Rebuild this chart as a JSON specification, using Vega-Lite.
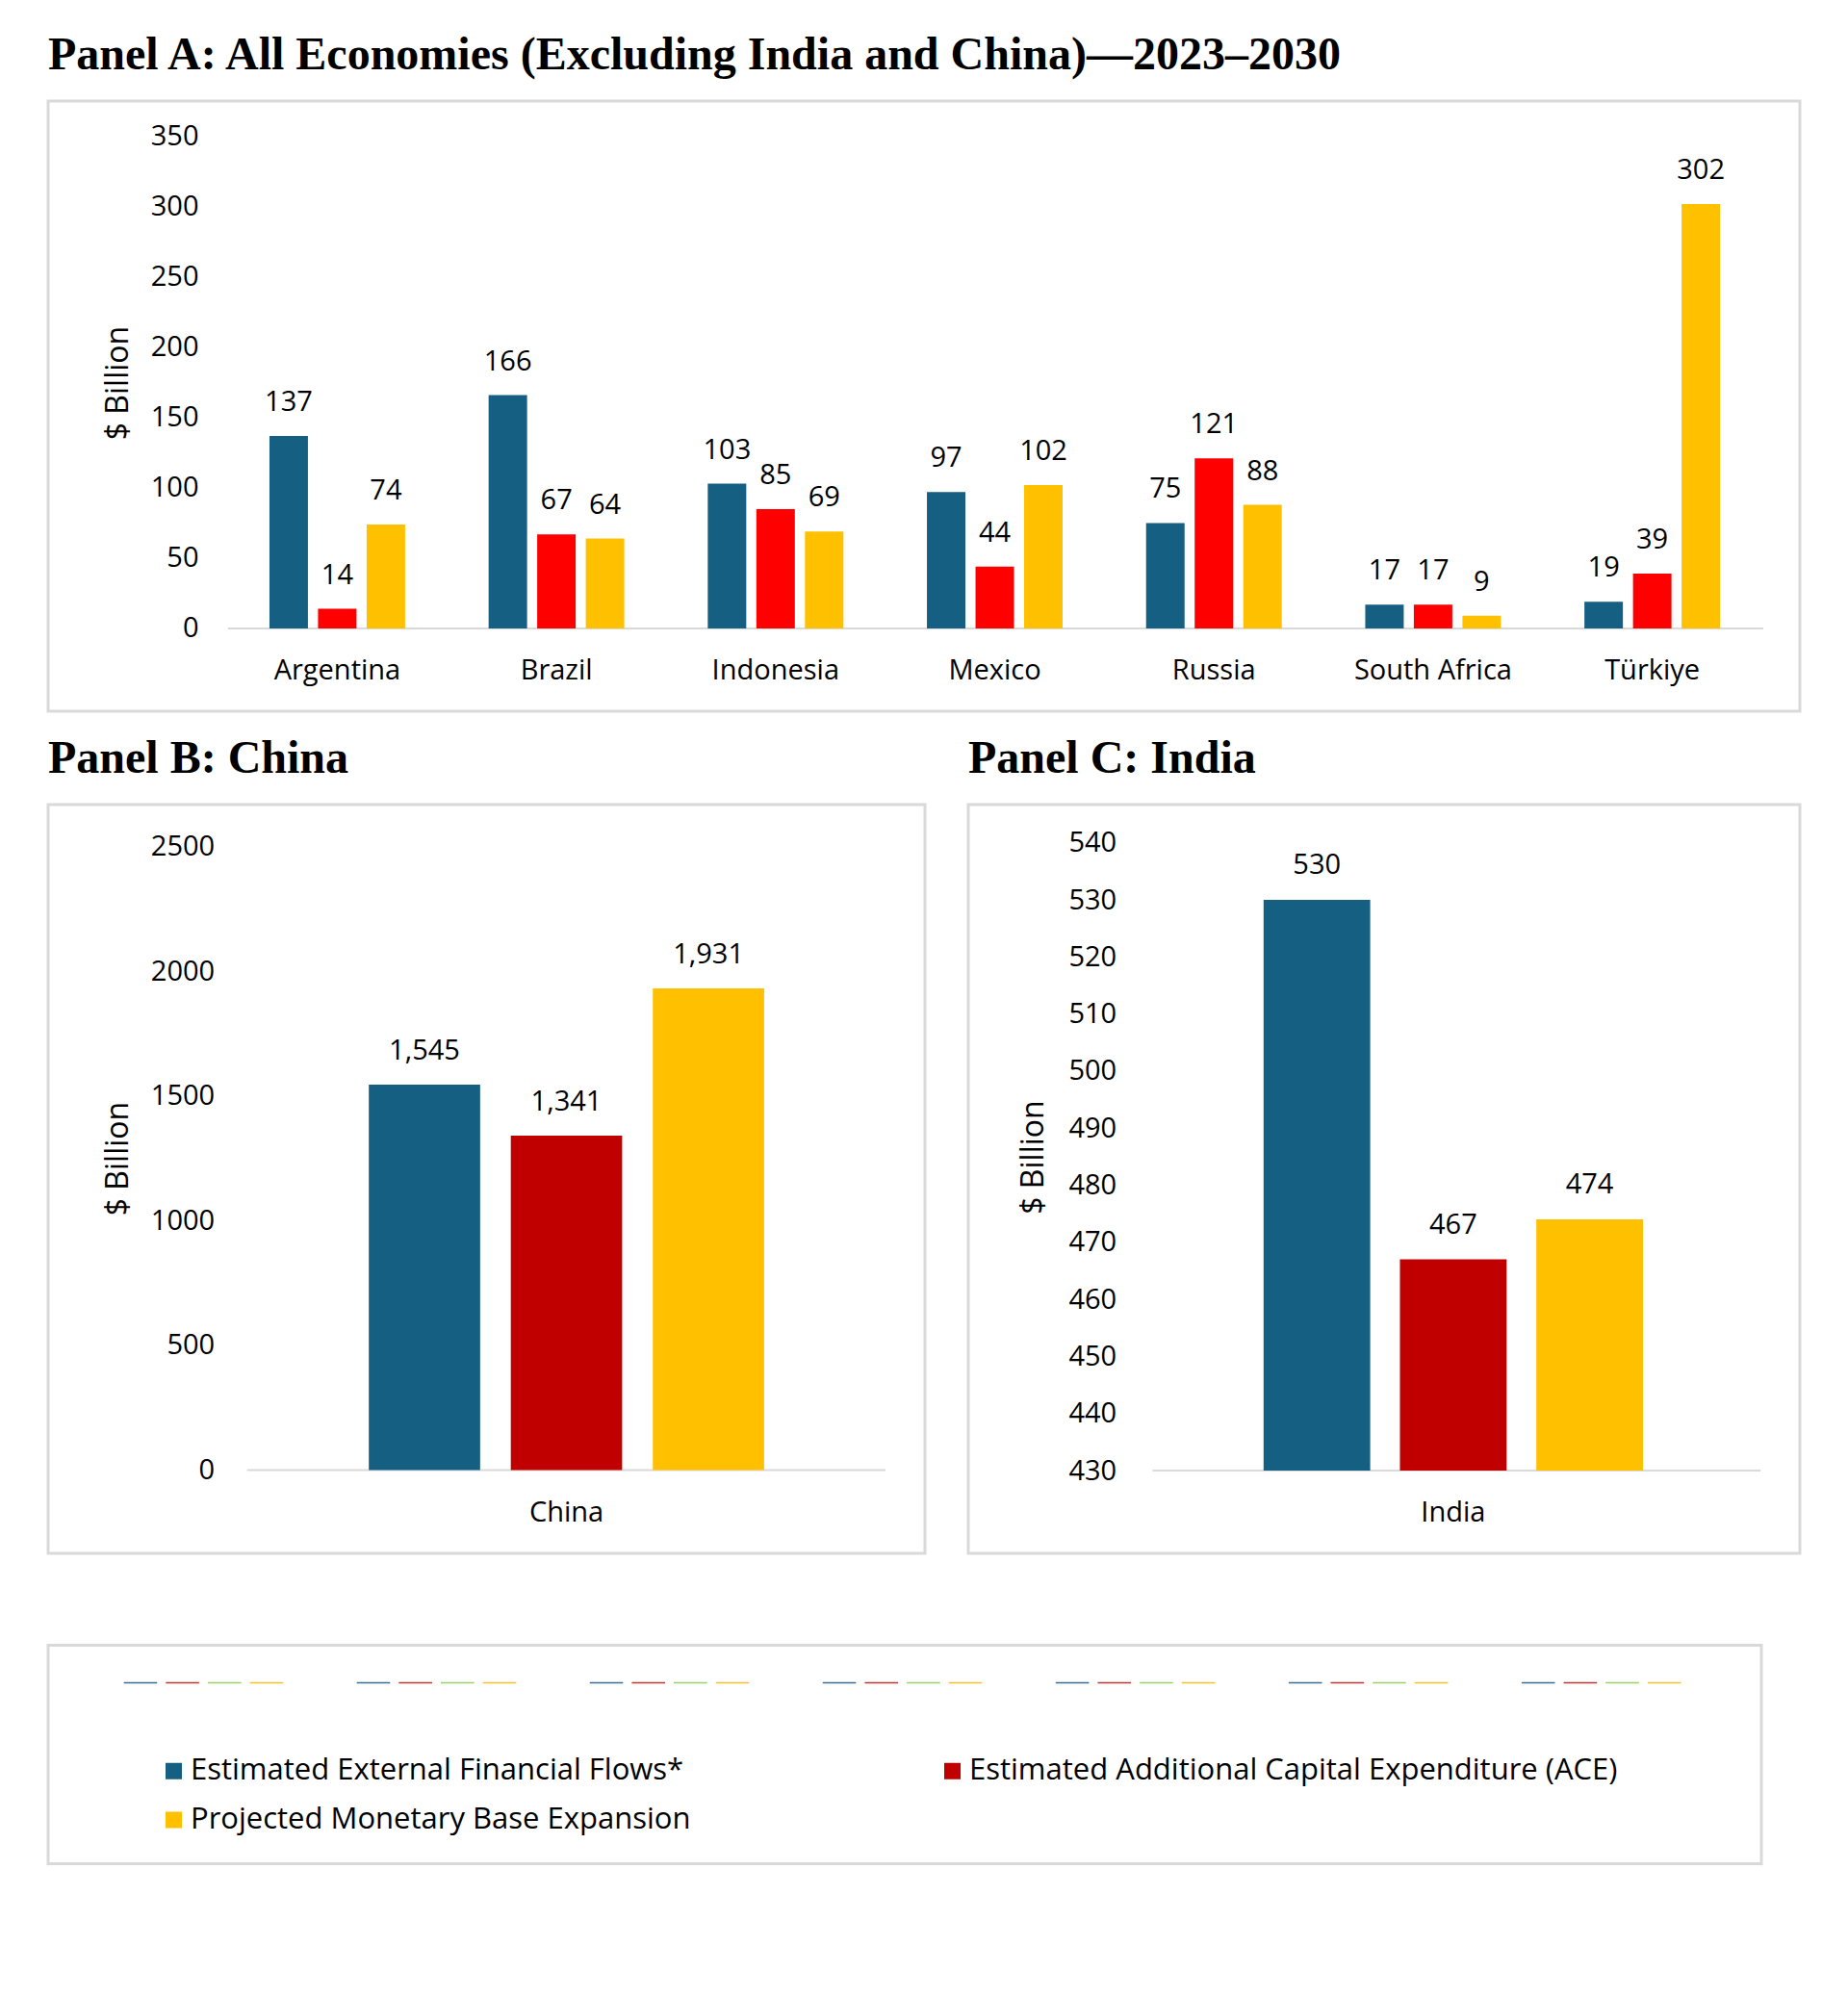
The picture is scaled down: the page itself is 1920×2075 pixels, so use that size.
{
  "$schema": "https://vega.github.io/schema/vega-lite/v6.json",
  "background": "white",
  "padding": {"left": 48, "top": 32, "right": 52, "bottom": 100},
  "config": {
    "font": "Open Sans",
    "view": {"stroke": "#d9d9d9", "strokeWidth": 3, "fill": "white"},
    "title": {"anchor": "start", "frame": "group", "font": "Liberation Serif", "fontSize": 48, "fontWeight": "bold", "color": "#000000", "baseline": "alphabetic", "offset": 23},
    "axis": {"labelFont": "Open Sans", "titleFont": "Open Sans", "labelColor": "#000000", "titleColor": "#000000", "labelFontSize": 29, "titleFontSize": 32, "titleFontWeight": "normal", "domain": false, "ticks": false, "tickSize": 0, "grid": false, "labelPadding": 0}
  },
  "datasets": {
    "a": [
      {"country": "Argentina", "series": "Estimated External Financial Flows*", "value": 137},
      {"country": "Argentina", "series": "Estimated Additional Capital Expenditure (ACE)", "value": 14},
      {"country": "Argentina", "series": "Projected Monetary Base Expansion", "value": 74},
      {"country": "Brazil", "series": "Estimated External Financial Flows*", "value": 166},
      {"country": "Brazil", "series": "Estimated Additional Capital Expenditure (ACE)", "value": 67},
      {"country": "Brazil", "series": "Projected Monetary Base Expansion", "value": 64},
      {"country": "Indonesia", "series": "Estimated External Financial Flows*", "value": 103},
      {"country": "Indonesia", "series": "Estimated Additional Capital Expenditure (ACE)", "value": 85},
      {"country": "Indonesia", "series": "Projected Monetary Base Expansion", "value": 69},
      {"country": "Mexico", "series": "Estimated External Financial Flows*", "value": 97},
      {"country": "Mexico", "series": "Estimated Additional Capital Expenditure (ACE)", "value": 44},
      {"country": "Mexico", "series": "Projected Monetary Base Expansion", "value": 102},
      {"country": "Russia", "series": "Estimated External Financial Flows*", "value": 75},
      {"country": "Russia", "series": "Estimated Additional Capital Expenditure (ACE)", "value": 121},
      {"country": "Russia", "series": "Projected Monetary Base Expansion", "value": 88},
      {"country": "South Africa", "series": "Estimated External Financial Flows*", "value": 17},
      {"country": "South Africa", "series": "Estimated Additional Capital Expenditure (ACE)", "value": 17},
      {"country": "South Africa", "series": "Projected Monetary Base Expansion", "value": 9},
      {"country": "Türkiye", "series": "Estimated External Financial Flows*", "value": 19},
      {"country": "Türkiye", "series": "Estimated Additional Capital Expenditure (ACE)", "value": 39},
      {"country": "Türkiye", "series": "Projected Monetary Base Expansion", "value": 302}
    ],
    "b": [
      {"country": "China", "series": "Estimated External Financial Flows*", "value": 1545},
      {"country": "China", "series": "Estimated Additional Capital Expenditure (ACE)", "value": 1341},
      {"country": "China", "series": "Projected Monetary Base Expansion", "value": 1931}
    ],
    "c": [
      {"country": "India", "series": "Estimated External Financial Flows*", "value": 530},
      {"country": "India", "series": "Estimated Additional Capital Expenditure (ACE)", "value": 467},
      {"country": "India", "series": "Projected Monetary Base Expansion", "value": 474}
    ],
    "abase": [{"start": "Argentina", "end": "Türkiye"}],
    "bbase": [{"start": "China", "end": "China"}],
    "cbase": [{"start": "India", "end": "India"}],
    "dashes": [
      {"group": 1, "line": "1"}, {"group": 1, "line": "2"}, {"group": 1, "line": "3"}, {"group": 1, "line": "4"},
      {"group": 2, "line": "1"}, {"group": 2, "line": "2"}, {"group": 2, "line": "3"}, {"group": 2, "line": "4"},
      {"group": 3, "line": "1"}, {"group": 3, "line": "2"}, {"group": 3, "line": "3"}, {"group": 3, "line": "4"},
      {"group": 4, "line": "1"}, {"group": 4, "line": "2"}, {"group": 4, "line": "3"}, {"group": 4, "line": "4"},
      {"group": 5, "line": "1"}, {"group": 5, "line": "2"}, {"group": 5, "line": "3"}, {"group": 5, "line": "4"},
      {"group": 6, "line": "1"}, {"group": 6, "line": "2"}, {"group": 6, "line": "3"}, {"group": 6, "line": "4"},
      {"group": 7, "line": "1"}, {"group": 7, "line": "2"}, {"group": 7, "line": "3"}, {"group": 7, "line": "4"}
    ]
  },
  "spacing": 91.5,
  "resolve": {"scale": {"color": "independent", "x": "independent", "y": "independent", "xOffset": "independent"}, "legend": {"color": "independent"}},
  "vconcat": [
    {
      "spacing": 22,
      "resolve": {"scale": {"color": "independent", "x": "independent", "y": "independent", "xOffset": "independent"}, "legend": {"color": "independent"}},
      "vconcat": [
        {
          "width": 1820,
          "height": 634,
          "title": "Panel A: All Economies (Excluding India and China)—2023–2030",
          "layer": [
            {
              "data": {"name": "abase"},
              "mark": {"type": "rule", "color": "#d9d9d9", "strokeWidth": 2},
              "encoding": {
                "x": {"field": "start", "type": "nominal", "bandPosition": -0.305},
                "x2": {"field": "end", "bandPosition": 1.318},
                "y": {"datum": 0, "type": "quantitative"}
              }
            },
            {
              "data": {"name": "a"},
              "mark": {"type": "bar"},
              "encoding": {
                "x": {"field": "country", "type": "nominal", "sort": null, "title": null,
                      "scale": {"paddingInner": 0.381, "paddingOuter": 0.687, "align": 0.735},
                      "axis": {"orient": "bottom", "offset": -34, "labelBaseline": "alphabetic", "labelAngle": 0, "labelAlign": "center", "bandPosition": 0.5}},
                "xOffset": {"field": "series", "type": "nominal",
                      "scale": {"domain": ["Estimated External Financial Flows*", "Estimated Additional Capital Expenditure (ACE)", "Projected Monetary Base Expansion"], "paddingInner": 0.208, "paddingOuter": 0}},
                "y": {"field": "value", "type": "quantitative",
                      "scale": {"domain": [-58.9, 375.3], "nice": false, "zero": false},
                      "axis": {"values": [0, 50, 100, 150, 200, 250, 300, 350], "offset": -156, "title": "$ Billion", "titleAngle": -90, "titleBaseline": "middle", "titleX": -84, "titleY": 292.5}},
                "y2": {"datum": 0},
                "color": {"field": "series", "type": "nominal", "legend": null,
                      "scale": {"domain": ["Estimated External Financial Flows*", "Estimated Additional Capital Expenditure (ACE)", "Projected Monetary Base Expansion"], "range": ["#156082", "#ff0000", "#ffc000"]}}
              }
            },
            {
              "data": {"name": "a"},
              "mark": {"type": "text", "font": "Open Sans", "fontSize": 29, "color": "#000000", "baseline": "alphabetic", "dy": -26},
              "encoding": {
                "x": {"field": "country", "type": "nominal", "sort": null},
                "xOffset": {"field": "series", "type": "nominal"},
                "y": {"field": "value", "type": "quantitative"},
                "text": {"field": "value", "type": "quantitative", "format": ","}
              }
            }
          ]
        },
        {
          "spacing": 41,
          "resolve": {"scale": {"color": "independent", "x": "independent", "y": "independent", "xOffset": "independent"}, "legend": {"color": "independent"}},
          "hconcat": [
            {
              "width": 911,
              "height": 778,
              "title": "Panel B: China",
              "layer": [
                {
                  "data": {"name": "bbase"},
                  "mark": {"type": "rule", "color": "#d9d9d9", "strokeWidth": 2},
                  "encoding": {
                    "x": {"field": "start", "type": "nominal", "bandPosition": -0.308},
                    "x2": {"field": "end", "bandPosition": 1.307},
                    "y": {"datum": 0, "type": "quantitative"}
                  }
                },
                {
                  "data": {"name": "b"},
                  "mark": {"type": "bar"},
                  "encoding": {
                    "x": {"field": "country", "type": "nominal", "sort": null, "title": null,
                          "scale": {"paddingInner": 0, "paddingOuter": 0.609, "align": 0.666},
                          "axis": {"orient": "bottom", "offset": -34, "labelBaseline": "alphabetic", "labelAngle": 0, "labelAlign": "center", "bandPosition": 0.5}},
                    "xOffset": {"field": "series", "type": "nominal",
                          "scale": {"domain": ["Estimated External Financial Flows*", "Estimated Additional Capital Expenditure (ACE)", "Projected Monetary Base Expansion"], "paddingInner": 0.216, "paddingOuter": 0}},
                    "y": {"field": "value", "type": "quantitative",
                          "scale": {"domain": [-333.7, 2667.8], "nice": false, "zero": false},
                          "axis": {"values": [0, 500, 1000, 1500, 2000, 2500], "format": "d", "offset": -172.7, "title": "$ Billion", "titleAngle": -90, "titleBaseline": "middle", "titleX": -100.7, "titleY": 367.5}},
                    "y2": {"datum": 0},
                    "color": {"field": "series", "type": "nominal", "legend": null,
                          "scale": {"domain": ["Estimated External Financial Flows*", "Estimated Additional Capital Expenditure (ACE)", "Projected Monetary Base Expansion"], "range": ["#156082", "#c00000", "#ffc000"]}}
                  }
                },
                {
                  "data": {"name": "b"},
                  "mark": {"type": "text", "font": "Open Sans", "fontSize": 29, "color": "#000000", "baseline": "alphabetic", "dy": -26},
                  "encoding": {
                    "x": {"field": "country", "type": "nominal", "sort": null},
                    "xOffset": {"field": "series", "type": "nominal"},
                    "y": {"field": "value", "type": "quantitative"},
                    "text": {"field": "value", "type": "quantitative", "format": ","}
                  }
                }
              ]
            },
            {
              "width": 864,
              "height": 778,
              "title": "Panel C: India",
              "layer": [
                {
                  "data": {"name": "cbase"},
                  "mark": {"type": "rule", "color": "#d9d9d9", "strokeWidth": 2},
                  "encoding": {
                    "x": {"field": "start", "type": "nominal", "bandPosition": -0.293},
                    "x2": {"field": "end", "bandPosition": 1.31},
                    "y": {"datum": 430, "type": "quantitative"}
                  }
                },
                {
                  "data": {"name": "c"},
                  "mark": {"type": "bar"},
                  "encoding": {
                    "x": {"field": "country", "type": "nominal", "sort": null, "title": null,
                          "scale": {"paddingInner": 0, "paddingOuter": 0.596, "align": 0.653},
                          "axis": {"orient": "bottom", "offset": -34, "labelBaseline": "alphabetic", "labelAngle": 0, "labelAlign": "center", "bandPosition": 0.5}},
                    "xOffset": {"field": "series", "type": "nominal",
                          "scale": {"domain": ["Estimated External Financial Flows*", "Estimated Additional Capital Expenditure (ACE)", "Projected Monetary Base Expansion"], "paddingInner": 0.218, "paddingOuter": 0}},
                    "y": {"field": "value", "type": "quantitative",
                          "scale": {"domain": [415.5, 546.7], "nice": false, "zero": false},
                          "axis": {"values": [430, 440, 450, 460, 470, 480, 490, 500, 510, 520, 530, 540], "offset": -153.7, "title": "$ Billion", "titleAngle": -90, "titleBaseline": "middle", "titleX": -86.7, "titleY": 366}},
                    "y2": {"datum": 430},
                    "color": {"field": "series", "type": "nominal", "legend": null,
                          "scale": {"domain": ["Estimated External Financial Flows*", "Estimated Additional Capital Expenditure (ACE)", "Projected Monetary Base Expansion"], "range": ["#156082", "#c00000", "#ffc000"]}}
                  }
                },
                {
                  "data": {"name": "c"},
                  "mark": {"type": "text", "font": "Open Sans", "fontSize": 29, "color": "#000000", "baseline": "alphabetic", "dy": -27},
                  "encoding": {
                    "x": {"field": "country", "type": "nominal", "sort": null},
                    "xOffset": {"field": "series", "type": "nominal"},
                    "y": {"field": "value", "type": "quantitative"},
                    "text": {"field": "value", "type": "quantitative", "format": ","}
                  }
                }
              ]
            }
          ]
        }
      ]
    },
    {
      "width": 1780,
      "height": 227,
      "resolve": {"scale": {"color": "independent"}, "legend": {"color": "independent"}},
      "layer": [
        {
          "data": {"name": "dashes"},
          "mark": {"type": "tick", "orient": "horizontal", "size": 34.6, "thickness": 1.6, "opacity": 1},
          "encoding": {
            "x": {"field": "group", "type": "nominal", "axis": null,
                  "scale": {"paddingInner": 0.316, "paddingOuter": 0.335, "align": 0.485}},
            "xOffset": {"field": "line", "type": "nominal", "scale": {"paddingInner": 0.208, "paddingOuter": 0}},
            "y": {"datum": 0.828, "type": "quantitative", "axis": null, "scale": {"domain": [0, 1], "nice": false}},
            "color": {"field": "line", "type": "nominal", "legend": null,
                  "scale": {"domain": ["1", "2", "3", "4"], "range": ["#3a6f95", "#c03535", "#9bd06a", "#f2c230"]}}
          }
        },
        {
          "data": {"name": "b"},
          "mark": {"type": "square", "opacity": 0},
          "encoding": {
            "color": {"field": "series", "type": "nominal",
                  "scale": {"domain": ["Estimated External Financial Flows*", "Estimated Additional Capital Expenditure (ACE)", "Projected Monetary Base Expansion"], "range": ["#156082", "#c00000", "#ffc000"]},
                  "legend": {"title": null, "orient": "top-left", "offset": 115, "padding": 0, "columns": 2, "direction": "horizontal", "columnPadding": 256, "rowPadding": 19,
                             "symbolType": "square", "symbolSize": 289, "symbolStrokeWidth": 0, "symbolOpacity": 1,
                             "labelFont": "Open Sans", "labelFontSize": 31, "labelColor": "#000000", "labelOffset": 2, "labelLimit": 1000}}
          }
        }
      ]
    }
  ]
}
